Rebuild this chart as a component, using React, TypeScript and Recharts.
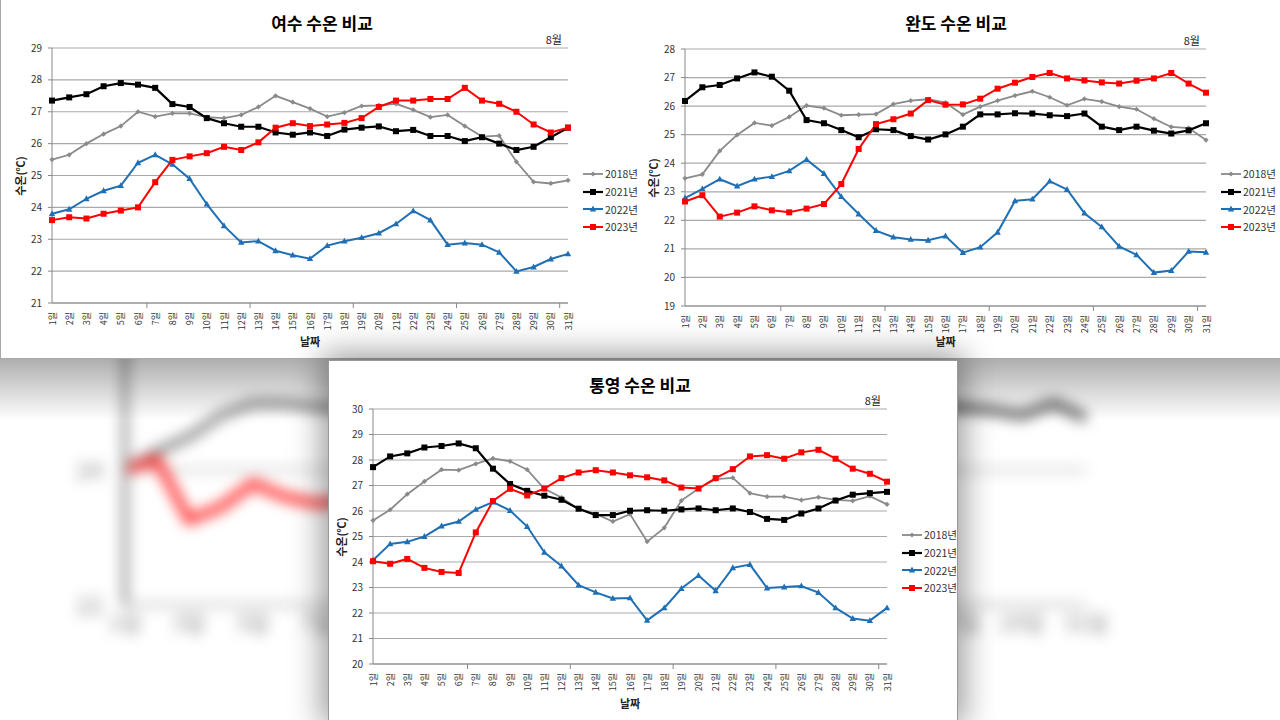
import React from 'react';
import { LineChart, Line, XAxis, YAxis, CartesianGrid } from 'recharts';

const FONT = '"Noto Sans CJK KR", "Noto Sans", sans-serif';

// x 축: 8월 1일 ~ 31일
const days = Array.from({ length: 31 }, (_, i) => `${i + 1}일`);

// 여수
const yeosu2018 = [25.5, 25.65, 26.0, 26.3, 26.55, 27.0, 26.85, 26.95, 26.95, 26.83, 26.8, 26.9, 27.15, 27.5, 27.3, 27.1, 26.85, 26.97, 27.18, 27.2, 27.25, 27.06, 26.83, 26.9, 26.55, 26.22, 26.25, 25.43, 24.8, 24.75, 24.85];
const yeosu2021 = [27.35, 27.45, 27.55, 27.8, 27.9, 27.85, 27.75, 27.24, 27.15, 26.8, 26.64, 26.53, 26.53, 26.35, 26.28, 26.35, 26.24, 26.44, 26.5, 26.54, 26.39, 26.43, 26.24, 26.24, 26.08, 26.2, 26.0, 25.8, 25.9, 26.2, 26.5];
const yeosu2022 = [23.8, 23.94, 24.27, 24.52, 24.68, 25.4, 25.65, 25.35, 24.9, 24.1, 23.42, 22.9, 22.94, 22.64, 22.5, 22.39, 22.8, 22.94, 23.05, 23.19, 23.48, 23.89, 23.6, 22.83, 22.88, 22.83, 22.59, 21.99, 22.13, 22.38, 22.54];
const yeosu2023 = [23.6, 23.69, 23.65, 23.8, 23.9, 24.0, 24.79, 25.49, 25.6, 25.7, 25.9, 25.8, 26.04, 26.5, 26.64, 26.55, 26.6, 26.65, 26.8, 27.15, 27.35, 27.35, 27.4, 27.4, 27.75, 27.35, 27.25, 27.0, 26.6, 26.35, 26.5];
const yeosuTicks = [21, 22, 23, 24, 25, 26, 27, 28, 29];

// 완도
const wando2018 = [23.47, 23.61, 24.43, 24.99, 25.41, 25.32, 25.62, 26.02, 25.93, 25.68, 25.7, 25.72, 26.07, 26.19, 26.24, 26.12, 25.7, 25.98, 26.19, 26.37, 26.52, 26.31, 26.03, 26.25, 26.16, 25.98, 25.89, 25.56, 25.27, 25.23, 24.81];
const wando2021 = [26.18, 26.66, 26.74, 26.97, 27.18, 27.03, 26.54, 25.51, 25.4, 25.16, 24.91, 25.19, 25.16, 24.95, 24.83, 25.01, 25.28, 25.71, 25.71, 25.75, 25.74, 25.68, 25.65, 25.74, 25.28, 25.16, 25.28, 25.14, 25.04, 25.15, 25.4];
const wando2022 = [22.78, 23.1, 23.44, 23.2, 23.44, 23.53, 23.73, 24.13, 23.64, 22.83, 22.22, 21.64, 21.41, 21.33, 21.3, 21.45, 20.87, 21.06, 21.58, 22.68, 22.74, 23.37, 23.08, 22.25, 21.77, 21.09, 20.79, 20.17, 20.24, 20.91, 20.88];
const wando2023 = [22.66, 22.88, 22.13, 22.27, 22.49, 22.35, 22.28, 22.41, 22.57, 23.27, 24.5, 25.37, 25.54, 25.74, 26.21, 26.05, 26.06, 26.26, 26.61, 26.82, 27.02, 27.16, 26.97, 26.9, 26.83, 26.79, 26.89, 26.97, 27.16, 26.79, 26.47];
const wandoTicks = [19, 20, 21, 22, 23, 24, 25, 26, 27, 28];

// 통영
const tongyeong2018 = [25.63, 26.05, 26.66, 27.16, 27.62, 27.6, 27.85, 28.06, 27.95, 27.62, 26.87, 26.53, 26.07, 25.89, 25.59, 25.88, 24.8, 25.34, 26.41, 26.88, 27.25, 27.3, 26.7, 26.56, 26.56, 26.43, 26.54, 26.44, 26.4, 26.58, 26.26];
const tongyeong2021 = [27.72, 28.14, 28.26, 28.49, 28.55, 28.65, 28.46, 27.66, 27.06, 26.79, 26.6, 26.44, 26.09, 25.84, 25.84, 26.01, 26.03, 26.01, 26.06, 26.1, 26.03, 26.1, 25.96, 25.69, 25.65, 25.9, 26.1, 26.41, 26.64, 26.7, 26.75];
const tongyeong2022 = [24.07, 24.71, 24.79, 25.0, 25.41, 25.59, 26.06, 26.35, 26.02, 25.39, 24.38, 23.84, 23.09, 22.81, 22.57, 22.59, 21.71, 22.2, 22.96, 23.47, 22.87, 23.77, 23.9, 22.98, 23.02, 23.06, 22.8, 22.2, 21.78, 21.7, 22.2];
const tongyeong2023 = [24.03, 23.93, 24.12, 23.77, 23.61, 23.57, 25.16, 26.39, 26.87, 26.61, 26.88, 27.29, 27.51, 27.6, 27.51, 27.4, 27.32, 27.2, 26.92, 26.88, 27.29, 27.64, 28.14, 28.19, 28.05, 28.3, 28.4, 28.05, 27.66, 27.46, 27.15];
const tongyeongTicks = [20, 21, 22, 23, 24, 25, 26, 27, 28, 29, 30];

// 배경 (흐릿하게 확대된 그래프) - 보이는 부분만
const bgRedHead = [24.0, 24.15, 23.26, 23.45, 23.8, 23.6, 23.5, 23.55];
const bgGrayHead = [24.0, 24.27, 24.49, 24.81, 24.99, 24.99, 24.93, 24.9];
const bgDarkTail = [24.93, 24.93, 24.89, 24.81, 24.99, 24.77]; // 26일 ~ 31일
const bgTicks = [22, 24, 26, 28];

const SERIES = [
  { key: 's2018', name: '2018년', color: '#8a8a8a', shape: 'diamond', width: 1.8 },
  { key: 's2021', name: '2021년', color: '#000000', shape: 'square', width: 2.2 },
  { key: 's2022', name: '2022년', color: '#1f6fb5', shape: 'triangle', width: 2 },
  { key: 's2023', name: '2023년', color: '#ff0000', shape: 'square', width: 2 },
];

function Marker({ cx, cy, shape, color }: { cx: number; cy: number; shape: string; color: string }) {
  if (cx == null || cy == null) return null;
  if (shape === 'square') return <rect x={cx - 3} y={cy - 3} width={6} height={6} fill={color} />;
  if (shape === 'triangle') return <polygon points={`${cx},${cy - 3.5} ${cx + 3.2},${cy + 2.4} ${cx - 3.2},${cy + 2.4}`} fill={color} />;
  return <polygon points={`${cx},${cy - 2.6} ${cx + 2.6},${cy} ${cx},${cy + 2.6} ${cx - 2.6},${cy}`} fill={color} />;
}

function makeDayTick(band: number) {
  return function DayTick(props: any) {
    const { x, y, payload } = props;
    const idx = props.index ?? payload?.index ?? 0;
    const axisY = y - 8;
    return (
      <g>
        {idx > 0 && idx % 6 === 0 && (
          <line x1={x - band / 2} x2={x - band / 2} y1={axisY} y2={axisY + 5} stroke="#888" />
        )}
        <text transform={`translate(${x},${y + 1}) rotate(-90)`} textAnchor="end"
          dominantBaseline="central" fontSize={9} fill="#333" fontFamily={FONT}>
          {payload.value}
        </text>
      </g>
    );
  };
}

interface PanelProps {
  title: string;
  left: number; top: number; width: number; height: number;
  plot: { left: number; right: number; top: number; bottom: number };
  titleX: number; titleY: number; yLabelX: number;
  ticks: number[];
  s2018: number[]; s2021: number[]; s2022: number[]; s2023: number[];
}

function Panel(p: PanelProps) {
  const rows = days.map((d, i) => ({ day: d, s2018: p.s2018[i], s2021: p.s2021[i], s2022: p.s2022[i], s2023: p.s2023[i] }));
  const band = (p.plot.right - p.plot.left) / days.length;
  const DayTick = makeDayTick(band);
  const text = (extra: React.CSSProperties): React.CSSProperties => ({
    position: 'absolute', whiteSpace: 'nowrap', fontFamily: FONT, color: '#222', lineHeight: 1, ...extra,
  });
  return (
    <div style={{ position: 'absolute', left: p.left, top: p.top, width: p.width, height: p.height, background: '#fff' }}>
      <LineChart width={p.width} height={p.height} data={rows}
        margin={{ top: p.plot.top, right: p.width - p.plot.right, left: 0, bottom: 0 }}>
        <CartesianGrid vertical={false} stroke="#a9a9a9" strokeWidth={1.2} />
        <XAxis dataKey="day" interval={0} tickLine={false} axisLine={{ stroke: '#888' }}
          height={p.height - p.plot.bottom} tick={<DayTick />} />
        <YAxis width={p.plot.left} domain={[p.ticks[0], p.ticks[p.ticks.length - 1]]} ticks={p.ticks}
          interval={0} tickSize={4} tickMargin={6} axisLine={{ stroke: '#888' }} tickLine={{ stroke: '#888' }}
          tick={{ fontSize: 10, fill: '#333', fontFamily: FONT }} />
        {SERIES.map(s => (
          <Line key={s.key} type="linear" dataKey={s.key} name={s.name} stroke={s.color} strokeWidth={s.width}
            isAnimationActive={false} activeDot={false}
            dot={(d: any) => <Marker key={`${s.key}-${d.index}`} cx={d.cx} cy={d.cy} shape={s.shape} color={s.color} />} />
        ))}
      </LineChart>
      <div style={text({ left: p.titleX, top: p.titleY, transform: 'translate(-50%,-50%)', fontSize: 17, fontWeight: 700, color: '#000' })}>{p.title}</div>
      <div style={text({ left: p.plot.right - 6, top: p.plot.top - 9, transform: 'translate(-100%,-50%)', fontSize: 11 })}>8월</div>
      <div style={text({ left: (p.plot.left + p.plot.right) / 2, top: p.height - 17, transform: 'translate(-50%,-50%)', fontSize: 11, fontWeight: 700 })}>날짜</div>
      <div style={text({ left: p.yLabelX, top: (p.plot.top + p.plot.bottom) / 2, transform: 'translate(-50%,-50%) rotate(-90deg)', fontSize: 11, fontWeight: 700 })}>수온(℃)</div>
      <div style={{ position: 'absolute', left: p.plot.right + 15, top: 165, width: 62, whiteSpace: 'nowrap' }}>
        {SERIES.map(s => (
          <div key={s.key} style={{ display: 'flex', alignItems: 'center', height: 17.7, whiteSpace: 'nowrap' }}>
            <svg width={22} height={10} style={{ flexShrink: 0 }}>
              <line x1={0} x2={20} y1={5} y2={5} stroke={s.color} strokeWidth={s.width} />
              <Marker cx={10} cy={5} shape={s.shape} color={s.color} />
            </svg>
            <span style={{ fontFamily: FONT, fontSize: 10.5, color: '#333', whiteSpace: 'nowrap' }}>{s.name}</span>
          </div>
        ))}
      </div>
    </div>
  );
}

function Background() {
  const rows = days.map((d, i) => ({
    day: d,
    red: i < bgRedHead.length ? bgRedHead[i] : null,
    gray: i < bgGrayHead.length ? bgGrayHead[i] : null,
    dark: i >= 25 ? bgDarkTail[i - 25] : null,
  }));
  return (
    <div style={{ position: 'absolute', left: 0, top: 0, width: 1280, height: 720, filter: 'blur(7px)' }}>
      <LineChart width={1280} height={720} data={rows} margin={{ top: 200, right: 194, left: 0, bottom: 0 }}>
        <CartesianGrid vertical={false} stroke="#d6d6d6" strokeWidth={5} />
        <XAxis dataKey="day" interval={1} tickLine={false} axisLine={{ stroke: '#d0d0d0', strokeWidth: 5 }} height={115}
          tick={{ fontSize: 22, fill: '#888', fontFamily: FONT }} tickMargin={4} />
        <YAxis width={125} domain={[22, 28]} ticks={bgTicks} tickSize={0} tickMargin={22}
          axisLine={{ stroke: '#9a9a9a', strokeWidth: 7 }} tick={{ fontSize: 24, fill: '#8a8a8a', fontFamily: FONT }} />
        <Line dataKey="gray" stroke="#8c8c8c" strokeWidth={9} dot={false} isAnimationActive={false} />
        <Line dataKey="red" stroke="#ff2a2a" strokeWidth={9} dot={false} isAnimationActive={false} />
        <Line dataKey="dark" stroke="#666" strokeWidth={10} dot={false} isAnimationActive={false} />
      </LineChart>
    </div>
  );
}

export default function App() {
  return (
    <div style={{ position: 'absolute', left: 0, top: 0, width: 1280, height: 720, overflow: 'hidden', background: '#fff' }}>
      <Background />
      <div style={{ position: 'absolute', left: 0, top: 358, width: 1280, height: 62,
        background: 'linear-gradient(to bottom, rgba(0,0,0,0.32), rgba(0,0,0,0))' }} />
      <div style={{ position: 'absolute', left: 0, top: 0, width: 1280, height: 359, background: '#fff',
        borderLeft: '1px solid #aaa', borderBottom: '1px solid #aaa', boxSizing: 'border-box' }} />
      <Panel title="여수 수온 비교" left={1} top={0} width={636} height={358}
        plot={{ left: 51, right: 567, top: 48, bottom: 303 }} titleX={321} titleY={22} yLabelX={19}
        ticks={yeosuTicks} s2018={yeosu2018} s2021={yeosu2021} s2022={yeosu2022} s2023={yeosu2023} />
      <Panel title="완도 수온 비교" left={640} top={0} width={640} height={358}
        plot={{ left: 45, right: 566, top: 49, bottom: 306 }} titleX={316} titleY={22} yLabelX={13}
        ticks={wandoTicks} s2018={wando2018} s2021={wando2021} s2022={wando2022} s2023={wando2023} />
      <div style={{ position: 'absolute', left: 328, top: 360, width: 630, height: 360,
        boxShadow: '0 0 30px 6px rgba(0,0,0,0.4)', border: '1px solid #999', boxSizing: 'border-box', background: '#fff' }} />
      <Panel title="통영 수온 비교" left={329} top={361} width={628} height={359}
        plot={{ left: 44, right: 558, top: 48, bottom: 303 }} titleX={311} titleY={23} yLabelX={12}
        ticks={tongyeongTicks} s2018={tongyeong2018} s2021={tongyeong2021} s2022={tongyeong2022} s2023={tongyeong2023} />
    </div>
  );
}
